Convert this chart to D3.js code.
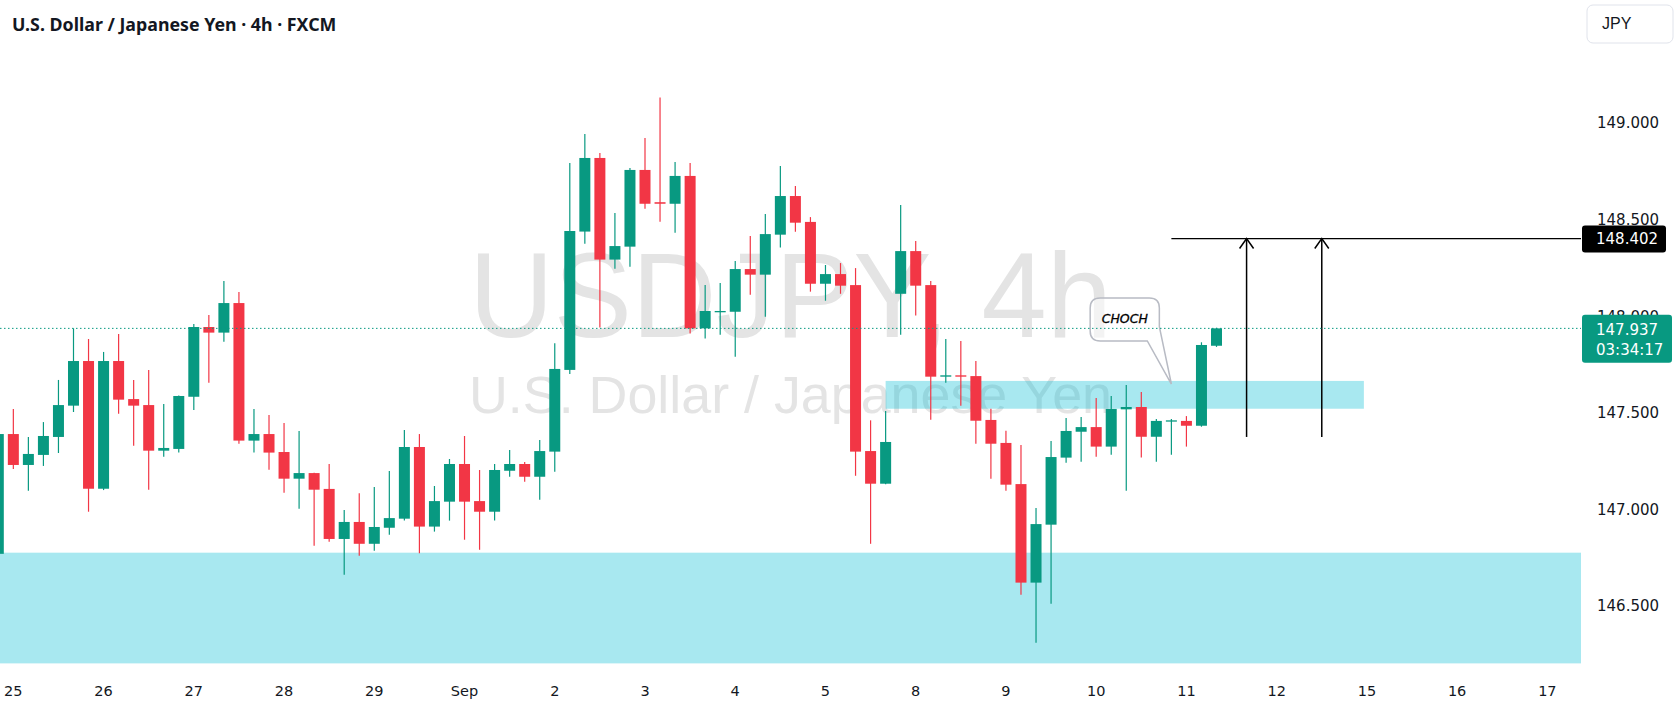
<!DOCTYPE html>
<html>
<head>
<meta charset="utf-8">
<script src="https://cdn.jsdelivr.net/npm/d3@7"></script>
<style>
  html, body { margin: 0; padding: 0; background: #fff; }
  svg { display: block; }
</style>
</head>
<body>
<svg id="chart" width="1680" height="710"></svg>
<script>
// USD/JPY 4h candles (oldest first)
const opens = [146.770, 147.390, 147.230, 147.282, 147.375, 147.537, 147.768, 147.107, 147.768, 147.571,
  147.540, 147.304, 147.313, 147.583, 147.944, 147.915, 148.068, 147.356, 147.390, 147.297,
  147.159, 147.188, 147.106, 146.847, 146.935, 146.822, 146.905, 146.952, 147.323, 146.911,
  147.040, 147.235, 147.043, 146.988, 147.200, 147.235, 147.169, 147.299, 147.722, 148.438,
  148.819, 148.293, 148.360, 148.757, 148.590, 148.582, 148.726, 147.937, 148.022, 148.023,
  148.244, 148.215, 148.422, 148.622, 148.488, 148.168, 148.218, 148.161, 147.302, 147.133,
  148.116, 148.337, 148.161, 147.687, 147.694, 147.690, 147.463, 147.344, 147.131, 146.621,
  146.921, 147.268, 147.402, 147.426, 147.325, 147.518, 147.530, 147.376, 147.456, 147.458,
  147.433, 147.847];
const highs = [147.420, 147.520, 147.375, 147.452, 147.670, 147.937, 147.882, 147.815, 147.908, 147.670,
  147.722, 147.546, 147.590, 147.960, 148.006, 148.182, 148.125, 147.520, 147.489, 147.447,
  147.406, 147.190, 147.235, 146.997, 147.083, 147.116, 147.199, 147.411, 147.390, 147.121,
  147.261, 147.380, 147.204, 147.235, 147.307, 147.245, 147.359, 147.860, 148.793, 148.943,
  148.845, 148.534, 148.767, 148.922, 149.132, 148.798, 148.793, 148.161, 148.172, 148.286,
  148.415, 148.529, 148.777, 148.674, 148.513, 148.265, 148.275, 148.249, 147.461, 147.509,
  148.576, 148.389, 148.182, 147.882, 147.872, 147.768, 147.521, 147.407, 147.333, 147.007,
  147.354, 147.473, 147.478, 147.577, 147.587, 147.644, 147.608, 147.468, 147.468, 147.483,
  147.865, 147.940];
const lows = [146.740, 147.209, 147.097, 147.225, 147.292, 147.504, 146.988, 147.100, 147.495, 147.330,
  147.102, 147.273, 147.294, 147.514, 147.656, 147.868, 147.340, 147.294, 147.205, 147.086,
  147.004, 146.812, 146.833, 146.662, 146.760, 146.786, 146.869, 146.942, 146.773, 146.885,
  146.942, 146.843, 146.791, 146.942, 147.169, 147.143, 147.050, 147.195, 147.701, 148.375,
  147.941, 148.246, 148.256, 148.556, 148.489, 148.432, 147.911, 147.884, 147.904, 147.790,
  148.111, 147.997, 148.355, 148.437, 148.127, 148.080, 148.116, 147.174, 146.822, 147.130,
  147.904, 148.003, 147.464, 147.656, 147.537, 147.340, 147.159, 147.097, 146.558, 146.310,
  146.512, 147.242, 147.247, 147.273, 147.283, 147.097, 147.268, 147.247, 147.283, 147.325,
  147.428, 147.841];
const closes = [147.390, 147.230, 147.287, 147.380, 147.540, 147.768, 147.107, 147.768, 147.568, 147.537,
  147.304, 147.318, 147.587, 147.944, 147.915, 148.068, 147.356, 147.390, 147.294, 147.159,
  147.188, 147.102, 146.847, 146.935, 146.822, 146.909, 146.955, 147.323, 146.911, 147.043,
  147.235, 147.040, 146.988, 147.204, 147.235, 147.169, 147.302, 147.727, 148.441, 148.819,
  148.293, 148.363, 148.757, 148.582, 148.582, 148.726, 147.937, 148.027, 148.027, 148.244,
  148.215, 148.425, 148.622, 148.484, 148.168, 148.218, 148.158, 147.299, 147.133, 147.349,
  148.337, 148.158, 147.687, 147.694, 147.687, 147.459, 147.340, 147.128, 146.621, 146.924,
  147.271, 147.406, 147.426, 147.325, 147.520, 147.530, 147.376, 147.458, 147.461, 147.433,
  147.851, 147.937];

// time axis: bar index where each day starts, and its label
const dayBars = [1, 7, 13, 19, 25, 31, 37, 43, 49, 55, 61, 67, 73, 79, 85, 91, 97, 103];
const dayLabels = ['25', '26', '27', '28', '29', 'Sep', '2', '3', '4', '5', '8', '9', '10', '11', '12', '15', '16', '17'];

const priceTicks = [146.5, 147.0, 147.5, 148.0, 148.5, 149.0];

// drawings
const zoneLow = [146.203, 146.776];
const zoneHigh = [147.521, 147.665];
const zoneHighBars = [59.0, 90.8];
const targetPrice = 148.402;
const targetStartBar = 78;
const arrowBars = [83, 88];
const arrowBase = 147.375;
const lastPrice = closes[closes.length - 1];
const countdown = '03:34:17';

const up = '#089981', down = '#f23645';
const zoneFill = 'rgba(0, 188, 212, 0.34)';
const plotRight = 1581;

const svg = d3.select('#chart');

const x = d3.scaleLinear().domain([0, 81]).range([-1.7, 1216.5]);
const y = d3.scaleLinear().domain([146.5, 149]).range([606, 123]);

svg.append('defs').append('clipPath').attr('id', 'plot')
  .append('rect').attr('x', 0).attr('y', 0).attr('width', plotRight).attr('height', 710);

let plot = svg.append('g').attr('clip-path', 'url(#plot)');

// watermark
plot.append('text')
  .attr('x', plotRight / 2).attr('y', 337)
  .attr('text-anchor', 'middle')
  .attr('font-family', 'Liberation Sans, Arial, sans-serif')
  .attr('font-size', 120)
  .attr('textLength', 643).attr('lengthAdjust', 'spacingAndGlyphs')
  .attr('fill', '#e4e4e4')
  .text('USDJPY, 4h');
plot.append('text')
  .attr('x', plotRight / 2).attr('y', 413)
  .attr('text-anchor', 'middle')
  .attr('font-family', 'Liberation Sans, Arial, sans-serif')
  .attr('font-size', 51)
  .attr('textLength', 643).attr('lengthAdjust', 'spacingAndGlyphs')
  .attr('fill', '#e4e4e4')
  .text('U.S. Dollar / Japanese Yen');

// zones
plot.append('rect')
  .attr('x', 0).attr('width', plotRight)
  .attr('y', y(zoneLow[1])).attr('height', y(zoneLow[0]) - y(zoneLow[1]))
  .attr('fill', zoneFill);
plot.append('rect')
  .attr('x', x(zoneHighBars[0])).attr('width', x(zoneHighBars[1]) - x(zoneHighBars[0]))
  .attr('y', y(zoneHigh[1])).attr('height', y(zoneHigh[0]) - y(zoneHigh[1]))
  .attr('fill', zoneFill);

// CHOCH callout: rounded box with a pointer going down to the zone
function callout(x1, y1, x2, y2, r, yCut, tipX, tipY, baseX) {
  return `M${x1 + r},${y1} H${x2 - r} Q${x2},${y1} ${x2},${y1 + r} V${yCut} L${tipX},${tipY} L${baseX},${y2}` +
    ` H${x1 + r} Q${x1},${y2} ${x1},${y2 - r} V${y1 + r} Q${x1},${y1} ${x1 + r},${y1} Z`;
}
let boxL = x(72.6), boxR = x(77.2), boxT = y(148.094), boxB = y(147.872);
plot.append('path')
  .attr('d', callout(boxL, boxT, boxR, boxB, 10, y(147.946), x(78.0), y(147.649), x(76.4)))
  .attr('fill', 'rgba(255,255,255,0.55)')
  .attr('stroke', '#b8bbc4')
  .attr('stroke-width', 1.5);
plot.append('text')
  .attr('x', (boxL + boxR) / 2).attr('y', 323)
  .attr('text-anchor', 'middle')
  .attr('font-family', 'DejaVu Sans, sans-serif')
  .attr('font-style', 'italic')
  .attr('font-size', 12.5)
  .attr('fill', '#000')
  .attr('stroke', '#000').attr('stroke-width', 0.3)
  .text('CHOCH');

// candles
const idx = d3.range(opens.length);
let candles = plot.append('g').selectAll('g').data(idx).join('g')
  .attr('fill', i => closes[i] >= opens[i] ? up : down)
  .attr('stroke', i => closes[i] >= opens[i] ? up : down);

candles.append('line')
  .attr('x1', i => x(i)).attr('x2', i => x(i))
  .attr('y1', i => y(highs[i])).attr('y2', i => y(lows[i]))
  .attr('stroke-width', 1.2);

candles.append('rect')
  .attr('stroke', 'none')
  .attr('x', i => x(i) - 5.5)
  .attr('width', 11)
  .attr('y', i => y(Math.max(opens[i], closes[i])))
  .attr('height', i => Math.max(1.3, Math.abs(y(opens[i]) - y(closes[i]))));

// target line and arrows
plot.append('line')
  .attr('x1', x(targetStartBar)).attr('x2', plotRight)
  .attr('y1', y(targetPrice)).attr('y2', y(targetPrice))
  .attr('stroke', '#000').attr('stroke-width', 1.3);

arrowBars.forEach(b => {
  let ax = x(b), top = y(targetPrice);
  plot.append('line')
    .attr('x1', ax).attr('x2', ax)
    .attr('y1', y(arrowBase)).attr('y2', top)
    .attr('stroke', '#000').attr('stroke-width', 1.5);
  plot.append('path')
    .attr('d', `M${ax - 7},${top + 10} L${ax},${top} L${ax + 7},${top + 10}`)
    .attr('fill', 'none').attr('stroke', '#000').attr('stroke-width', 1.5);
});

// last price line
plot.append('line')
  .attr('x1', 0).attr('x2', plotRight)
  .attr('y1', y(lastPrice)).attr('y2', y(lastPrice))
  .attr('stroke', up).attr('stroke-width', 1)
  .attr('stroke-dasharray', '1.5,2.5');

// price axis
let axisFont = 'DejaVu Sans, Verdana, sans-serif';
svg.append('g').selectAll('text').data(priceTicks).join('text')
  .attr('x', 1597).attr('y', d => y(d))
  .attr('dy', '0.36em')
  .attr('font-family', axisFont).attr('font-size', 15)
  .attr('fill', '#131722')
  .text(d => d3.format('.3f')(d));

// target label
svg.append('rect')
  .attr('x', 1582).attr('y', y(targetPrice) - 13).attr('width', 84).attr('height', 27)
  .attr('rx', 3).attr('fill', '#000');
svg.append('text')
  .attr('x', 1596).attr('y', y(targetPrice)).attr('dy', '0.36em')
  .attr('font-family', axisFont).attr('font-size', 15).attr('fill', '#fff')
  .text(d3.format('.3f')(targetPrice));

// last price label
svg.append('rect')
  .attr('x', 1582).attr('y', y(lastPrice) - 13.5).attr('width', 90).attr('height', 48)
  .attr('rx', 3).attr('fill', up);
svg.append('text')
  .attr('x', 1596).attr('y', y(lastPrice) + 1.5).attr('dy', '0.36em')
  .attr('font-family', axisFont).attr('font-size', 15).attr('fill', '#fff')
  .text(d3.format('.3f')(lastPrice));
svg.append('text')
  .attr('x', 1596).attr('y', y(lastPrice) + 21.5).attr('dy', '0.36em')
  .attr('font-family', axisFont).attr('font-size', 15).attr('fill', '#fff')
  .text(countdown);

// time axis
svg.append('g').selectAll('text').data(dayBars).join('text')
  .attr('x', d => x(d)).attr('y', 691)
  .attr('dy', '0.36em')
  .attr('text-anchor', 'middle')
  .attr('font-family', axisFont).attr('font-size', 14.5)
  .attr('fill', '#131722')
  .text((d, i) => dayLabels[i]);

// title
svg.append('text')
  .attr('x', 12).attr('y', 30.5)
  .attr('font-family', 'Noto Sans, sans-serif')
  .attr('font-weight', 700)
  .attr('font-size', 17.8)
  .attr('fill', '#131722')
  .text('U.S. Dollar / Japanese Yen · 4h · FXCM');

// currency button
svg.append('rect')
  .attr('x', 1587).attr('y', 5).attr('width', 86).attr('height', 38)
  .attr('rx', 6).attr('fill', '#fff').attr('stroke', '#e0e3eb');
svg.append('text')
  .attr('x', 1602).attr('y', 28.5)
  .attr('font-family', 'Liberation Sans, Arial, sans-serif')
  .attr('font-size', 16)
  .attr('fill', '#131722')
  .text('JPY');
</script>
</body>
</html>
